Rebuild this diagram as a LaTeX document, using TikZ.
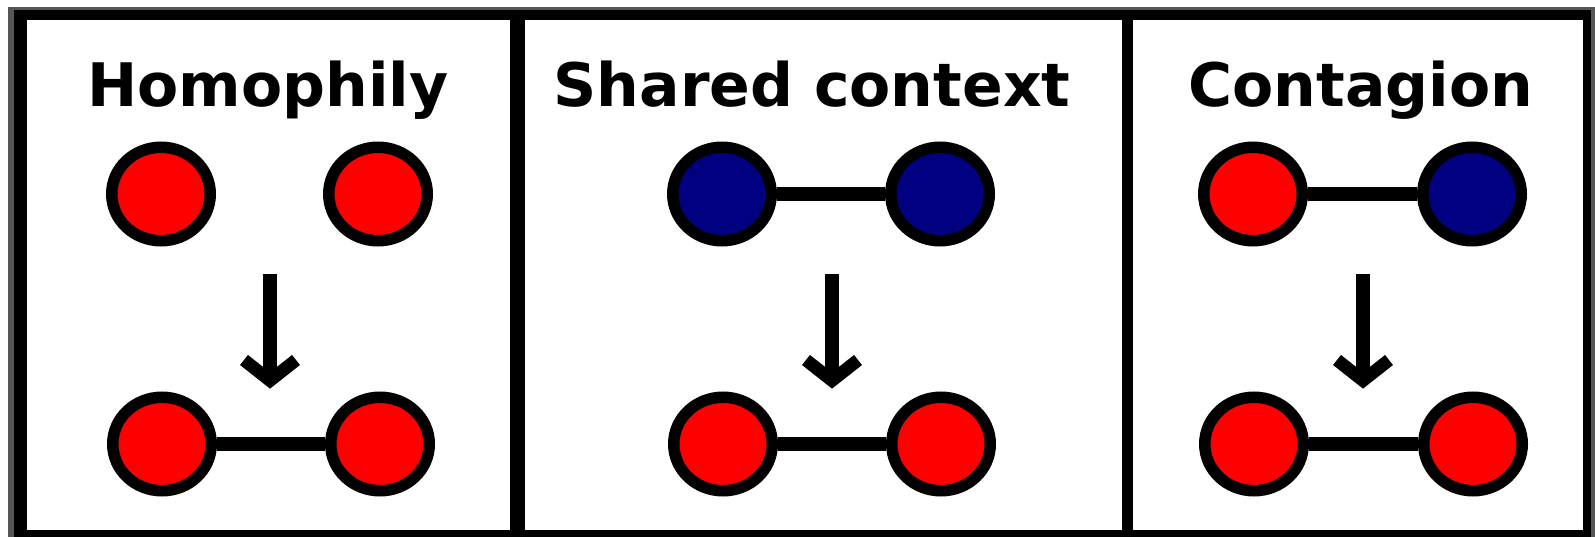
\documentclass[tikz,border=0pt]{standalone}
\usepackage{fontspec}
\newfontfamily\titlefont{DejaVu Sans}
\usetikzlibrary{shapes.geometric,calc}
\definecolor{nodered}{RGB}{255,0,0}
\definecolor{nodeblue}{RGB}{0,0,128}
\definecolor{framegray}{RGB}{85,85,85}
\begin{document}
\begin{tikzpicture}[x=1pt,y=-1pt,
  agent/.style={ellipse, draw=black, line width=11.5pt,
    minimum width=98.5pt, minimum height=93.5pt, inner sep=0pt},
  redagent/.style={agent, fill=nodered},
  blueagent/.style={agent, fill=nodeblue},
  tie/.style={line width=14pt},
  shaft/.style={line width=14pt, line cap=butt},
  barb/.style={line width=12.8pt, line join=miter, line cap=butt},
  title/.style={anchor=base, inner sep=0pt,
    font=\titlefont\bfseries\fontsize{60}{72}\selectfont},
  panel/.style={fill=white}
]
\useasboundingbox (0,0) rectangle (1595,537);
\fill[white] (0,0) rectangle (1595,537);

% outer frame and the three panels
\fill[framegray] (8,7) rectangle (1595,537);
\fill[black] (14,10) rectangle (1591,537);
\fill[panel] (27,20) rectangle (510,530);
\fill[panel] (525,20) rectangle (1122,530);
\fill[panel] (1133,20) rectangle (1583,530);

% titles
\node[title] (t1) at (268,107) {Homophily};
\node[title] (t2) at (812,107) {Shared context};
\node[title] (t3) at (1361,107) {Contagion};

% homophily
\node[redagent] (h1) at (161,194) {};
\node[redagent] (h2) at (378,194) {};
\node[redagent] (h3) at (162,444) {};
\node[redagent] (h4) at (380,444) {};
\draw[tie] (h3) -- (h4);

% shared context
\node[blueagent] (s1) at (722,194) {};
\node[blueagent] (s2) at (940,194) {};
\node[redagent] (s3) at (723,444) {};
\node[redagent] (s4) at (941,444) {};
\draw[tie] (s1) -- (s2);
\draw[tie] (s3) -- (s4);

% contagion
\node[redagent] (c1) at (1253,194) {};
\node[blueagent] (c2) at (1472,194) {};
\node[redagent] (c3) at (1254,444) {};
\node[redagent] (c4) at (1473,444) {};
\draw[tie] (c1) -- (c2);
\draw[tie] (c3) -- (c4);

% transition arrows
\foreach \n/\x in {a1/270, a2/832, a3/1363} {
  \coordinate (\n s) at (\x,274);
  \coordinate (\n e) at (\x,380.5);
  \draw[shaft] (\n s) -- ($(\n e)+(0,-4)$);
  \draw[barb] ($(\n e)+(-26,-20.5)$) -- (\n e) -- ($(\n e)+(26,-20.5)$);
}
\end{tikzpicture}
\end{document}
